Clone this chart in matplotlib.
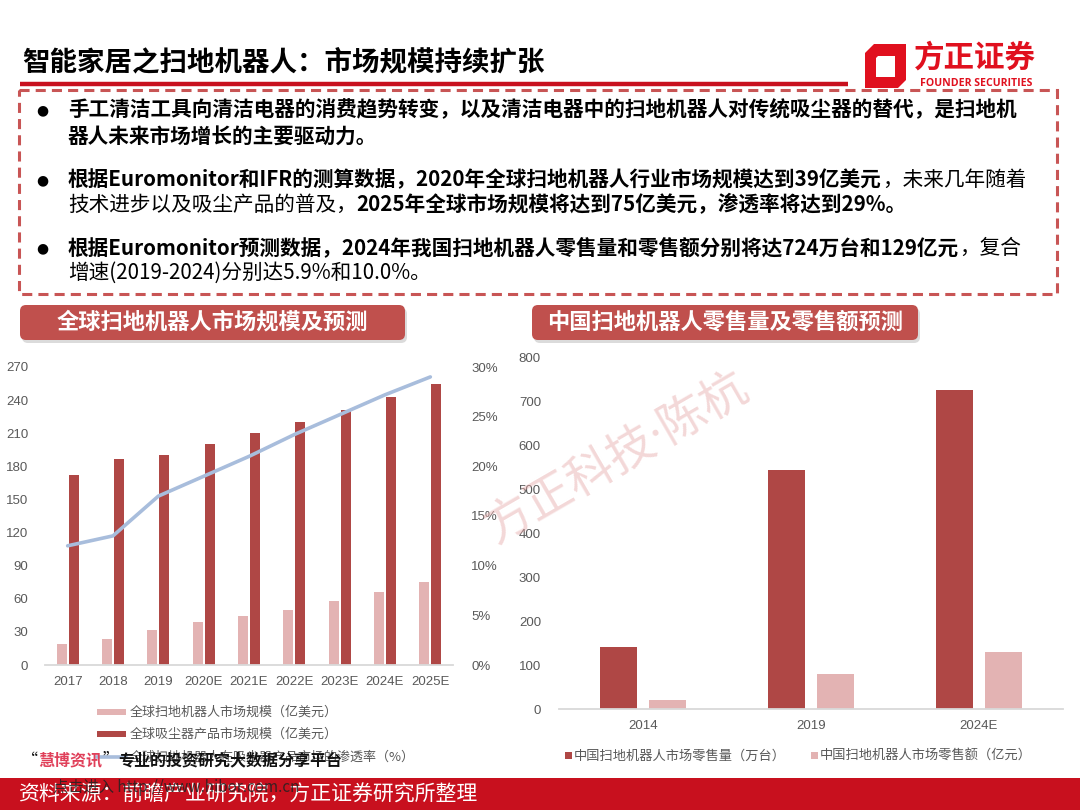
import matplotlib
matplotlib.use('Agg')
import matplotlib.pyplot as plt
from matplotlib.patches import Rectangle, FancyBboxPatch, Polygon
from matplotlib.lines import Line2D
import numpy as np

plt.rcParams['font.family'] = ['Noto Sans CJK SC', 'DejaVu Sans']

W, H = 1080, 810

# ---------------- data ----------------
global_years = ['2017', '2018', '2019', '2020E', '2021E', '2022E', '2023E', '2024E', '2025E']
robot_market = [19, 24, 32, 39, 44, 50, 58, 66, 75]            # 亿美元
vacuum_market = [172, 187, 190, 200, 210, 220, 231, 243, 255]  # 亿美元
penetration = [0.12, 0.13, 0.17, 0.19, 0.21, 0.232, 0.252, 0.272, 0.29]
left_yticks = [0, 30, 60, 90, 120, 150, 180, 210, 240, 270]
left_pct_ticks = [0, 0.05, 0.10, 0.15, 0.20, 0.25, 0.30]
left_series = ['全球扫地机器人市场规模（亿美元）',
               '全球吸尘器产品市场规模（亿美元）',
               '全球扫地机器人在吸尘器产品市场的渗透率（%）']

china_years = ['2014', '2019', '2024E']
china_volume = [140, 544, 724]   # 万台
china_sales = [20, 80, 129]      # 亿元
right_yticks = [0, 100, 200, 300, 400, 500, 600, 700, 800]
right_series = ['中国扫地机器人市场零售量（万台）', '中国扫地机器人市场零售额（亿元）']

title = '智能家居之扫地机器人：市场规模持续扩张'
left_header = '全球扫地机器人市场规模及预测'
right_header = '中国扫地机器人零售量及零售额预测'
source = '资料来源：前瞻产业研究院，方正证券研究所整理'

bullets = [
    [[('手工清洁工具向清洁电器的消费趋势转变，以及清洁电器中的扫地机器人对传统吸尘器的替代，是扫地机', True)],
     [('器人未来市场增长的主要驱动力。', True)]],
    [[('根据Euromonitor和IFR的测算数据，2020年全球扫地机器人行业市场规模达到39亿美元', True), ('，未来几年随着', False)],
     [('技术进步以及吸尘产品的普及，', False), ('2025年全球市场规模将达到75亿美元，渗透率将达到29%。', True)]],
    [[('根据Euromonitor预测数据，2024年我国扫地机器人零售量和零售额分别将达724万台和129亿元', True), ('，复合', False)],
     [('增速(2019-2024)分别达5.9%和10.0%。', False)]],
]
bullet_lines_y = [[110, 136], [180, 205], [248, 273]]

# ---------------- style ----------------
DARK = '#AF4745'
LIGHT = '#E3B3B3'
BLUE = '#A8BDDC'
GRAY = '#595959'
RED = '#C8101E'
BOXRED = '#C0504D'
NUMFONT = ['Liberation Sans', 'DejaVu Sans']

fig = plt.figure(figsize=(W / 100, H / 100), dpi=100)
fig.patch.set_facecolor('white')
renderer = fig.canvas.get_renderer()

# background overlay axes in pixel coordinates
bg = fig.add_axes([0, 0, 1, 1], zorder=0)
bg.set_xlim(0, W)
bg.set_ylim(H, 0)
bg.axis('off')


def seg_text(ax, x, y, segs, size, color='black', **kw):
    for s, bold in segs:
        c = color
        if isinstance(bold, tuple):
            bold, c = bold
        t = ax.text(x, y, s, fontsize=size, fontweight='bold' if bold else 'normal',
                    color=c, va='center', ha='left', **kw)
        bb = t.get_window_extent(renderer=renderer)
        x += bb.width
    return x


# title
bg.text(22, 62, title, fontsize=19.8, fontweight='bold', va='center', ha='left', color='black')
bg.add_line(Line2D([20, 848], [84, 84], color=RED, lw=3.2, solid_capstyle='butt'))

# logo
bg.add_patch(Polygon([(874, 44), (906, 44), (906, 80), (898, 88), (865, 88), (865, 53)],
                     closed=True, fc='#E0101E', ec='none'))
bg.add_patch(Polygon([(878, 56), (895, 56), (895, 77), (876, 77), (876, 58)],
                     closed=True, fc='white', ec='none'))
bg.text(975, 58, '方正证券', fontsize=22, fontweight='bold', color='#E0101E', ha='center', va='center')
bg.text(976, 83, 'FOUNDER SECURITIES', fontsize=7.6, fontweight='bold', color='#E0101E',
        ha='center', va='center', family=['Open Sans', 'DejaVu Sans'])

# dashed bullet box
bg.add_patch(Rectangle((19, 90), 1038, 204, fill=False, ec='#C85555', lw=2.2,
                       ls=(0, (3.3, 2.0))))

for lines, ys in zip(bullets, bullet_lines_y):
    bg.text(42, ys[0], '●', fontsize=10, ha='center', va='center', color='black',
            family=['DejaVu Sans'])
    for segs, y in zip(lines, ys):
        seg_text(bg, 68, y, segs, 14.85)

# section headers
for (x0, x1, txt) in [(20, 405, left_header), (532, 918, right_header)]:
    bg.add_patch(FancyBboxPatch((x0 + 2, 308), x1 - x0, 35,
                                boxstyle='round,pad=0,rounding_size=6',
                                fc='#999999', ec='none', alpha=0.35))
    bg.add_patch(FancyBboxPatch((x0, 305), x1 - x0, 35,
                                boxstyle='round,pad=0,rounding_size=6',
                                fc=BOXRED, ec='none'))
    bg.text((x0 + x1) / 2, 322, txt, fontsize=16, fontweight='bold', color='white',
            ha='center', va='center')

# bottom band
bg.add_patch(Rectangle((0, 778), W, 32, fc=RED, ec='none'))
bg.text(18, 795, source, fontsize=15, color='white', ha='left', va='center')


def style_ticks(ax, labels_x=True):
    for lbl in ax.get_yticklabels() + (ax.get_xticklabels() if labels_x else []):
        lbl.set_fontfamily(NUMFONT)
        lbl.set_fontsize(9.5)
        lbl.set_color(GRAY)


# ---------------- left chart ----------------
axL = fig.add_axes([45 / W, 1 - 665 / H, 408 / W, 298 / H], zorder=2)
axL.patch.set_alpha(0)
xl = np.arange(len(global_years))
axL.bar(xl - 0.132, robot_market, 0.22, color=LIGHT, zorder=2)
axL.bar(xl + 0.132, vacuum_market, 0.22, color=DARK, zorder=2)
axL.set_xlim(-0.5, len(global_years) - 0.5)
axL.set_ylim(0, 270)
axL.set_yticks(left_yticks)
axL.set_xticks(xl)
axL.set_xticklabels(global_years)
for s in ['top', 'right', 'left']:
    axL.spines[s].set_visible(False)
axL.spines['bottom'].set_color('#D9D9D9')
axL.spines['bottom'].set_linewidth(1.3)
axL.tick_params(axis='y', length=0, pad=12)
axL.tick_params(axis='x', length=0, pad=8)
style_ticks(axL)

axL2 = axL.twinx()
axL2.plot(xl, penetration, color=BLUE, lw=2.6, solid_capstyle='round', zorder=3)
axL2.set_ylim(0, 0.30)
axL2.set_yticks(left_pct_ticks)
axL2.set_yticklabels([f'{int(round(v * 100))}%' for v in left_pct_ticks])
for s in ['top', 'right', 'left', 'bottom']:
    axL2.spines[s].set_visible(False)
axL2.tick_params(axis='y', length=0, pad=13)
style_ticks(axL2, labels_x=False)

# left legend
leg_y = [712, 734, 757]
bg2 = fig.add_axes([0, 0, 1, 1], zorder=5)
bg2.set_xlim(0, W)
bg2.set_ylim(H, 0)
bg2.axis('off')
bg2.add_patch(Rectangle((97, leg_y[0] - 3), 29, 6, fc=LIGHT, ec='none'))
bg2.add_patch(Rectangle((97, leg_y[1] - 3), 29, 6, fc=DARK, ec='none'))
bg2.add_line(Line2D([97, 126], [leg_y[2], leg_y[2]], color=BLUE, lw=2.6))
for lab, y in zip(left_series, leg_y):
    bg2.text(130, y, lab, fontsize=9.4, color=GRAY, ha='left', va='center')

# ---------------- right chart ----------------
axR = fig.add_axes([559 / W, 1 - 709 / H, 504 / W, 352 / H], zorder=2)
axR.patch.set_alpha(0)
xr = np.arange(len(china_years))
axR.bar(xr - 0.143, china_volume, 0.22, color=DARK, zorder=2)
axR.bar(xr + 0.143, china_sales, 0.22, color=LIGHT, zorder=2)
axR.set_xlim(-0.5, len(china_years) - 0.5)
axR.set_ylim(0, 800)
axR.set_yticks(right_yticks)
axR.set_xticks(xr)
axR.set_xticklabels(china_years)
for s in ['top', 'right', 'left']:
    axR.spines[s].set_visible(False)
axR.spines['bottom'].set_color('#D9D9D9')
axR.spines['bottom'].set_linewidth(1.3)
axR.tick_params(axis='y', length=0, pad=13)
axR.tick_params(axis='x', length=0, pad=8)
style_ticks(axR)

# right legend
bg2.add_patch(Rectangle((565, 752), 7, 7, fc=DARK, ec='none'))
bg2.text(574, 756, right_series[0], fontsize=9.5, color=GRAY, ha='left', va='center')
bg2.add_patch(Rectangle((811, 752), 7, 7, fc=LIGHT, ec='none'))
bg2.text(820, 756, right_series[1], fontsize=9.5, color=GRAY, ha='left', va='center')

# ---------------- watermarks ----------------
bg2.text(618, 458, '方正科技·陈杭', fontsize=34, color='#E6A8A8', alpha=0.45,
         rotation=30, ha='center', va='center',
         family=['Noto Sans', 'Noto Sans CJK SC'])
seg_text(bg2, 22, 760, [('“', False), ('慧博资讯', (True, '#E0405A')), ('”', False),
                        ('专业的投资研究大数据分享平台', True)], 11.5, color='#111111')
bg2.text(53, 787, '点击进入 http://www.hibor.com.cn', fontsize=11, color='#222222',
         ha='left', va='center', alpha=0.85)

fig.savefig('out.png', dpi=100, facecolor='white')
